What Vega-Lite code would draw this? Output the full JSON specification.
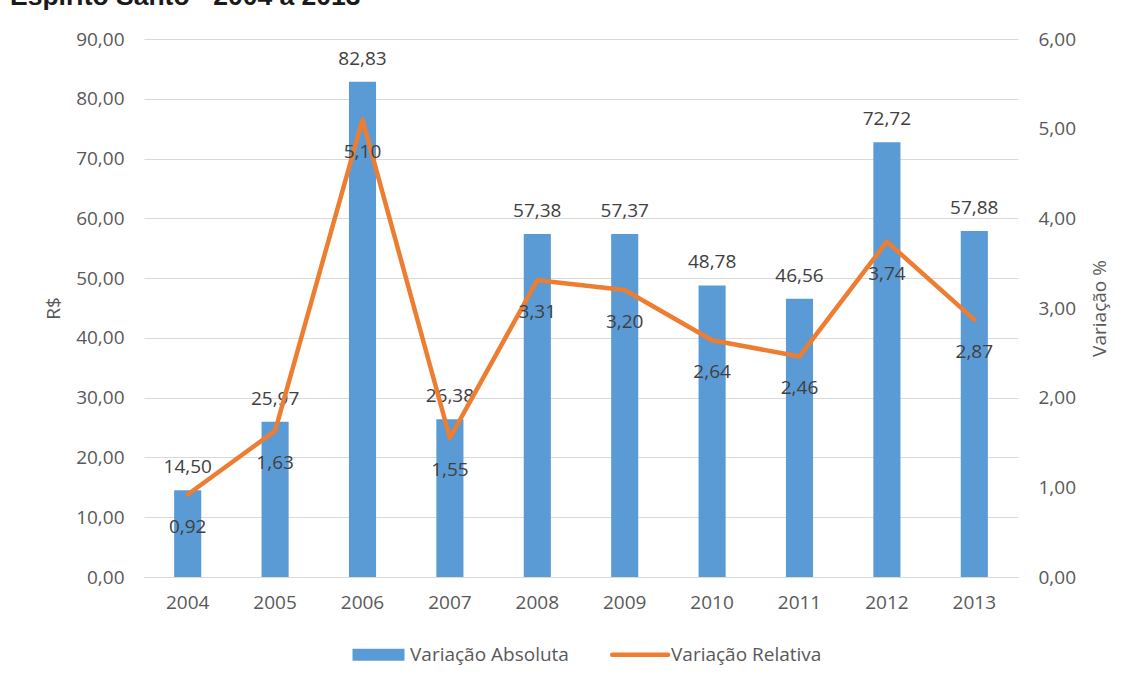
{
  "$schema": "https://vega.github.io/schema/vega-lite/v6.json",
  "autosize": {"type": "none"},
  "width": 874,
  "height": 538,
  "padding": {"left": 144, "top": 39, "right": 116, "bottom": 106},
  "background": "white",
  "title": {
    "text": "Espírito Santo - 2004 a 2013",
    "anchor": "start",
    "frame": "group",
    "dx": -134,
    "offset": -1,
    "baseline": "alphabetic",
    "align": "left",
    "font": "Liberation Sans",
    "fontSize": 26.5,
    "fontWeight": "bold",
    "color": "#1a1a1a"
  },
  "config": {
    "locale": {"number": {"decimal": ",", "thousands": ".", "grouping": [3], "currency": ["R$", ""]}},
    "view": {"stroke": null},
    "font": "Open Sans",
    "axis": {
      "labelFont": "Open Sans",
      "labelFontSize": 19,
      "labelColor": "#595959",
      "titleFont": "Open Sans",
      "titleFontSize": 19,
      "titleColor": "#595959",
      "titleFontWeight": "normal",
      "ticks": false,
      "gridColor": "#d9d9d9",
      "domainColor": "#d9d9d9"
    },
    "legend": {
      "labelFont": "Open Sans",
      "labelFontSize": 19,
      "labelColor": "#595959"
    }
  },
  "data": {
    "values": [
      {"ano": "2004", "abs": 14.50, "rel": 0.92},
      {"ano": "2005", "abs": 25.97, "rel": 1.63},
      {"ano": "2006", "abs": 82.83, "rel": 5.10},
      {"ano": "2007", "abs": 26.38, "rel": 1.55},
      {"ano": "2008", "abs": 57.38, "rel": 3.31},
      {"ano": "2009", "abs": 57.37, "rel": 3.20},
      {"ano": "2010", "abs": 48.78, "rel": 2.64},
      {"ano": "2011", "abs": 46.56, "rel": 2.46},
      {"ano": "2012", "abs": 72.72, "rel": 3.74},
      {"ano": "2013", "abs": 57.88, "rel": 2.87}
    ]
  },
  "encoding": {
    "x": {
      "field": "ano",
      "type": "nominal",
      "sort": null,
      "title": null,
      "scale": {"paddingInner": 0.69, "paddingOuter": 0.345},
      "axis": {"labelAngle": 0, "labelPadding": 16, "domain": true, "grid": false}
    }
  },
  "layer": [
    {
      "encoding": {
        "y": {
          "field": "abs",
          "type": "quantitative",
          "title": "R$",
          "scale": {"domain": [0, 90], "nice": false},
          "axis": {
            "values": [0, 10, 20, 30, 40, 50, 60, 70, 80, 90],
            "format": ".2f",
            "domain": false,
            "labelPadding": 20,
            "titlePadding": 12,
            "grid": true
          }
        }
      },
      "layer": [
        {
          "mark": {"type": "bar", "color": "#5B9BD5"},
          "encoding": {
            "color": {
              "datum": "Variação Absoluta",
              "type": "nominal",
              "scale": {"domain": ["Variação Absoluta", "Variação Relativa"], "range": ["#5B9BD5", "#ED7D31"]},
              "legend": {
                "title": null,
                "orient": "none",
                "legendX": 225,
                "legendY": 606,
                "direction": "horizontal",
                "symbolSize": 2704,
                "symbolStrokeWidth": 0,
                "labelOffset": 22,
                "columnPadding": 34,
                "encode": {
                  "symbols": {
                    "update": {
                      "shape": {"signal": "datum.value === 'Variação Absoluta' ? 'M-1,-0.23H1V0.23H-1Z' : 'M-1.05,0H1.1'"},
                      "fill": {"signal": "datum.value === 'Variação Absoluta' ? '#5B9BD5' : 'transparent'"},
                      "stroke": {"signal": "datum.value === 'Variação Absoluta' ? 'transparent' : '#ED7D31'"},
                      "strokeWidth": {"signal": "datum.value === 'Variação Absoluta' ? 0 : 4.5"},
                      "strokeCap": {"value": "round"},
                      "opacity": {"value": 1}
                    }
                  }
                }
              }
            }
          }
        },
        {
          "mark": {"type": "text", "baseline": "middle", "dy": -23, "fontSize": 19, "color": "#404040", "font": "Open Sans"},
          "encoding": {"text": {"field": "abs", "type": "quantitative", "format": ".2f"}}
        }
      ]
    },
    {
      "encoding": {
        "y": {
          "field": "rel",
          "type": "quantitative",
          "title": "Variação %",
          "scale": {"domain": [0, 6], "nice": false},
          "axis": {
            "orient": "right",
            "values": [0, 1, 2, 3, 4, 5, 6],
            "format": ".2f",
            "domain": false,
            "grid": false,
            "labelPadding": 20,
            "titlePadding": 34,
            "titleAngle": 270
          }
        }
      },
      "layer": [
        {
          "mark": {"type": "line", "strokeWidth": 4.5, "strokeCap": "round", "strokeJoin": "round"},
          "encoding": {
            "color": {"datum": "Variação Relativa", "type": "nominal"}
          }
        },
        {
          "mark": {"type": "text", "baseline": "middle", "dy": 32, "fontSize": 19, "color": "#404040", "font": "Open Sans"},
          "encoding": {"text": {"field": "rel", "type": "quantitative", "format": ".2f"}}
        }
      ]
    }
  ],
  "resolve": {"scale": {"y": "independent"}}
}
